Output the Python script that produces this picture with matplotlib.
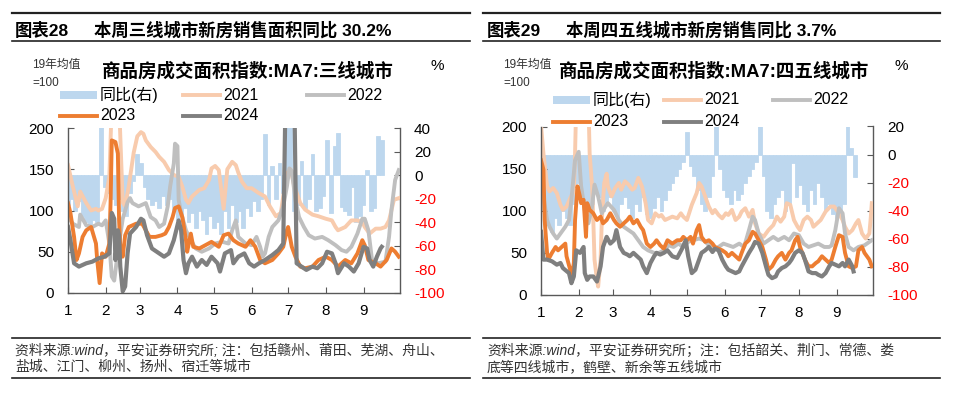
import matplotlib.pyplot as plt
from matplotlib.lines import Line2D
from matplotlib.patches import Rectangle
import numpy as np

plt.rcParams['font.family'] = ['Liberation Sans', 'Noto Sans CJK SC']
plt.rcParams['axes.unicode_minus'] = False

# x axis: day of year, ticks at month starts
month_days = [0, 31, 59, 90, 120, 151, 181, 212, 243]
month_labels = ['1', '2', '3', '4', '5', '6', '7', '8', '9']
bar_days = np.arange(0, 259, 3)

# ---- tier 3 cities (index, 19 avg = 100) ----
t3_2021_d = [0, 4, 8, 10, 15, 19, 23, 25, 28, 31, 34, 36, 42, 45, 47, 50, 54, 57, 60, 62, 64, 68, 72, 75, 79, 83, 87, 91,
             94, 97, 99, 102, 108, 112, 116, 118, 121, 124, 128, 131, 135, 138, 140, 143, 147, 151, 157, 162, 166, 171,
             175, 177, 180, 183, 186, 191, 195, 201, 206, 212, 217, 220, 222, 228, 233, 238, 242, 244, 248, 253, 257,
             261, 264, 268, 272]
t3_2021 = [155, 129, 105, 123, 109, 100, 102, 100, 102, 115, 141, 230, 230, 110, 105, 130, 170, 190, 195, 193, 185, 177,
           171, 165, 159, 149, 143, 141, 129, 113, 109, 117, 125, 127, 137, 151, 154, 149, 102, 150, 159, 155, 146, 135,
           127, 127, 121, 117, 105, 93, 97, 117, 145, 150, 130, 109, 101, 95, 93, 90, 88, 80, 76, 80, 88, 88, 86, 80,
           72, 78, 78, 80, 88, 113, 115]

t3_2022_d = [0, 4, 9, 10, 15, 20, 25, 28, 31, 34, 36, 38, 41, 45, 49, 51, 53, 58, 64, 68, 72, 75, 79, 82, 84, 87, 88, 90,
             91, 93, 97, 101, 105, 110, 116, 121, 127, 132, 135, 138, 140, 146, 151, 155, 158, 160, 162, 165, 168, 173,
             177, 180, 182, 184, 187, 190, 194, 198, 203, 209, 214, 220, 225, 229, 233, 238, 242, 244, 247, 250, 255,
             261, 264, 266, 269, 272]
t3_2022 = [92, 84, 80, 95, 82, 80, 84, 82, 88, 60, 20, 15, 50, 90, 110, 115, 109, 105, 109, 92, 88, 80, 84, 105, 129,
           157, 181, 178, 113, 97, 76, 64, 54, 50, 54, 60, 62, 60, 76, 88, 68, 60, 58, 68, 56, 44, 48, 68, 80, 88, 105,
           129, 151, 148, 113, 92, 80, 70, 66, 68, 64, 58, 52, 50, 56, 72, 90, 90, 76, 40, 36, 38, 68, 101, 137, 149]

t3_2023_d = [0, 2, 5, 7, 9, 12, 15, 19, 21, 23, 24, 26, 28, 31, 34, 35, 36, 39, 41, 42, 43, 45, 47, 50, 53, 56, 61, 64,
             67, 72, 77, 80, 83, 86, 88, 91, 94, 97, 98, 101, 103, 108, 113, 118, 124, 128, 132, 136, 140, 146, 150,
             154, 158, 162, 168, 173, 177, 180, 181, 184, 187, 191, 195, 201, 206, 212, 217, 222, 228, 233, 238, 242,
             244, 247, 253, 257, 262, 266, 269, 272]
t3_2023 = [109, 97, 68, 40, 48, 68, 76, 80, 70, 60, 40, 12, 48, 44, 60, 109, 185, 183, 169, 88, 55, 44, 70, 80, 82, 84,
           84, 76, 68, 68, 70, 72, 80, 92, 103, 105, 92, 64, 50, 72, 56, 54, 58, 62, 56, 70, 72, 64, 60, 56, 64, 56, 40,
           36, 40, 48, 56, 76, 80, 56, 44, 32, 30, 32, 40, 44, 40, 32, 40, 36, 48, 64, 58, 40, 36, 32, 40, 54, 50, 44]

t3_2024_d = [0, 2, 5, 9, 15, 20, 25, 30, 34, 36, 38, 39, 41, 42, 43, 45, 47, 49, 51, 56, 60, 62, 65, 69, 75, 79, 83, 87,
             91, 93, 95, 97, 99, 102, 106, 110, 114, 118, 123, 125, 129, 134, 136, 140, 145, 149, 153, 157, 162, 168,
             173, 177, 179, 186, 188, 192, 196, 201, 205, 209, 213, 217, 220, 222, 227, 231, 235, 239, 243, 246, 248,
             251, 254, 257, 258]
t3_2024 = [80, 64, 36, 32, 36, 38, 42, 44, 48, 97, 90, 40, 76, 70, 32, 2, 8, 48, 72, 80, 90, 88, 70, 54, 48, 44, 48, 64,
           88, 76, 40, 24, 36, 44, 32, 40, 34, 44, 36, 26, 48, 52, 36, 44, 48, 36, 32, 36, 40, 46, 52, 60, 250, 250, 36,
           32, 28, 32, 30, 36, 50, 48, 36, 24, 36, 32, 26, 36, 56, 54, 40, 32, 44, 54, 56]

t3_yoy = [-25, -20, -30, -22, -35, -40, -42, -38, -40, 60,
          -10, -15, -20, -25, -20, -30, -35, -15, -5, 18,
          10, -10, -20, -25, -22, -28, -18, -25, -20, -30,
          -38, -35, -28, -40, -32, -45, -30, -38, -50, -35,
          -45, -40, -50, -30, -45, -25, -40, -30, -45, -28,
          -35, -22, -30, -20, 35, -25, 8, -20, 10, -15,
          60, 60, -30, -25, 12, -28, -20, 18, -30, -28,
          -18, 30, -32, 25, 36, -27, -30, -34, -10, -40,
          -35, -25, 4, -30, -28, 33, 30]

# ---- tier 4-5 cities ----
t45_2021_d = [0, 2, 5, 7, 10, 13, 16, 18, 21, 24, 27, 28, 29, 35, 39, 40, 42, 43, 44, 46, 47, 49, 50, 52, 54, 55, 58,
              61, 64, 66, 69, 72, 75, 77, 80, 83, 86, 88, 91, 94, 97, 99, 102, 105, 108, 112, 115, 117, 120, 124, 128,
              130, 132, 135, 138, 141, 143, 146, 149, 152, 154, 157, 160, 163, 165, 168, 171, 174, 176, 179, 183, 187,
              191, 194, 197, 200, 202, 205, 208, 211, 213, 216, 219, 222, 224, 227, 230, 234, 238, 241, 245, 248, 250,
              253, 256, 259, 261, 264, 267, 270, 271, 272]
t45_2021 = [202, 168, 129, 123, 127, 121, 107, 101, 105, 115, 123, 168, 230, 230, 230, 168, 129, 89, 42, 18, 10, 42, 89,
            133, 144, 129, 117, 127, 133, 125, 135, 131, 125, 127, 139, 129, 109, 89, 85, 97, 93, 95, 89, 91, 93, 91,
            97, 93, 89, 107, 121, 133, 129, 117, 105, 97, 101, 95, 91, 97, 95, 101, 89, 93, 99, 103, 93, 101, 85, 73,
            69, 77, 83, 93, 87, 93, 109, 107, 89, 81, 77, 89, 93, 89, 81, 85, 89, 99, 105, 105, 97, 89, 81, 73, 77, 85,
            89, 73, 67, 73, 89, 109]

t45_2022_d = [0, 2, 5, 7, 10, 13, 16, 20, 23, 25, 28, 31, 33, 36, 39, 42, 44, 47, 50, 53, 55, 60, 64, 68, 72, 76, 80,
              84, 88, 93, 97, 101, 105, 109, 113, 117, 121, 125, 130, 134, 138, 142, 146, 150, 154, 158, 163, 167, 171,
              174, 176, 179, 183, 187, 191, 195, 200, 204, 208, 212, 216, 220, 224, 228, 233, 237, 239, 242, 245, 248,
              250, 253, 257, 261, 266, 270, 272]
t45_2022 = [133, 117, 89, 81, 73, 67, 73, 81, 89, 113, 160, 170, 129, 101, 85, 105, 131, 117, 97, 105, 109, 101, 89, 81,
            77, 73, 65, 57, 53, 50, 50, 53, 59, 57, 61, 57, 63, 65, 67, 65, 59, 55, 57, 61, 59, 57, 61, 57, 77, 93, 89,
            73, 61, 65, 69, 65, 69, 65, 73, 71, 61, 57, 59, 61, 57, 57, 59, 77, 103, 97, 73, 57, 53, 57, 59, 63, 65]

t45_2023_d = [0, 2, 3, 5, 6, 9, 12, 14, 17, 20, 21, 24, 25, 27, 28, 30, 32, 33, 35, 37, 38, 40, 43, 46, 49, 51, 54, 57,
              60, 62, 65, 68, 71, 73, 76, 79, 82, 84, 87, 90, 93, 95, 98, 101, 104, 108, 112, 115, 117, 120, 123, 125,
              128, 130, 132, 135, 138, 141, 143, 146, 149, 152, 154, 157, 160, 163, 165, 168, 171, 174, 176, 179, 182,
              185, 187, 190, 193, 195, 198, 201, 204, 206, 209, 211, 213, 217, 220, 223, 226, 228, 231, 234, 237, 239,
              242, 245, 248, 250, 253, 256, 259, 261, 264, 266, 270, 272]
t45_2023 = [160, 149, 89, 50, 42, 50, 57, 53, 57, 61, 46, 30, 18, 38, 89, 129, 117, 109, 113, 69, 109, 101, 97, 89, 93,
            85, 89, 97, 89, 85, 81, 85, 89, 93, 85, 89, 81, 77, 61, 57, 61, 65, 59, 55, 65, 61, 65, 65, 69, 65, 69, 61,
            77, 83, 69, 63, 65, 61, 57, 55, 53, 50, 46, 50, 46, 42, 50, 61, 65, 75, 73, 65, 57, 42, 30, 34, 42, 46, 50,
            42, 50, 53, 65, 69, 57, 42, 34, 34, 38, 40, 46, 42, 38, 42, 57, 71, 69, 50, 34, 32, 34, 53, 57, 50, 42, 34]

t45_2024_d = [0, 2, 5, 9, 13, 16, 18, 23, 25, 27, 29, 32, 35, 36, 38, 40, 43, 46, 49, 51, 54, 57, 60, 62, 65, 68, 71,
              73, 76, 79, 82, 84, 87, 90, 93, 95, 98, 101, 104, 108, 112, 116, 119, 121, 124, 127, 130, 132, 135, 138,
              141, 143, 146, 149, 152, 154, 157, 160, 163, 165, 168, 171, 174, 176, 179, 182, 185, 187, 190, 193, 195,
              198, 201, 204, 206, 209, 212, 215, 217, 220, 223, 226, 228, 231, 234, 237, 239, 242, 245, 248, 250, 253,
              256, 257]
t45_2024 = [75, 42, 42, 40, 36, 38, 32, 26, 14, 22, 53, 50, 57, 26, 18, 22, 22, 16, 34, 57, 69, 61, 65, 77, 57, 50, 48,
            46, 50, 46, 42, 34, 26, 38, 46, 50, 48, 50, 53, 46, 44, 55, 65, 46, 26, 30, 42, 50, 53, 57, 51, 55, 53, 42,
            34, 30, 28, 26, 28, 34, 42, 50, 57, 63, 61, 50, 34, 24, 20, 22, 28, 32, 34, 38, 42, 50, 53, 50, 42, 28, 26,
            26, 24, 22, 26, 34, 38, 36, 34, 38, 34, 42, 34, 28]

t45_yoy = [-40, -45, -50, -55, -45, -50, -40, -45, -50, -35,
           -20, -30, -45, -40, -35, -25, -30, -40, -35, -30,
           -40, -45, -35, -30, -38, -45, -35, -40, -30, -42,
           -45, -38, -30, -40, -32, -25, -20, -15, -10, -5,
           16, -8, -15, -25, -35, -40, -30, -15, 20, -10,
           -25, -30, -35, -25, -32, -28, -20, -15, -10, -5,
           20, -15, -40, -45, -35, -30, -25, -40, -35, -6,
           -30, -22, -35, -40, -25, -35, -20, -30, -40, -35,
           -42, -45, -40, -35, 21, 5, -16]

C_BAR = '#BDD7EE'
C21, C22, C23, C24 = '#F8CBAD', '#BFBFBF', '#ED7D31', '#7F7F7F'
SPINE = '#595959'

fig = plt.figure(figsize=(9.6, 3.96), dpi=100)


def fx(p):
    return p / 960


def fy(p):
    return 1 - p / 396


def draw_panel(cfg):
    x0, x1 = cfg['rule_x']
    for yy, lw in [(13, 1.6), (41, 1.2), (338, 1.2), (378, 1.2)]:
        fig.add_artist(Line2D([fx(x0), fx(x1)], [fy(yy), fy(yy)], color='#222222', lw=lw))
    fig.text(fx(cfg['fig_x']), fy(30), cfg['fig_no'], fontsize=12.5, fontweight='bold', va='center')
    fig.text(fx(cfg['head_x']), fy(30), cfg['headline'], fontsize=12.5, fontweight='bold', va='center')
    fig.text(fx(cfg['unit_x']), fy(65), '19年均值', fontsize=8.5, va='center', color='#333333')
    fig.text(fx(cfg['unit_x']), fy(83), '=100', fontsize=8.5, va='center', color='#333333')
    fig.text(fx(cfg['title_x']), fy(71), cfg['title'], fontsize=13.3, fontweight='bold', ha='center', va='center')
    fig.text(fx(cfg['pct_x']), fy(66), '%', fontsize=11, ha='center', va='center')
    for i, line in enumerate(cfg['note']):
        fig.text(fx(cfg['fig_x']), fy(351 + 16 * i), line, fontsize=10, style='italic', va='center',
                 color='#333333')

    ax = fig.add_axes(cfg['rect'])
    ax2 = ax.twinx()
    # yoy bars on the right scale, drawn behind the index lines
    ax2.bar(bar_days, cfg['yoy'], width=3, color=C_BAR, edgecolor=C_BAR, linewidth=0.6)
    ax.plot(cfg['d21'], cfg['v21'], color=C21, lw=2.8)
    ax.plot(cfg['d22'], cfg['v22'], color=C22, lw=2.8)
    ax.plot(cfg['d23'], cfg['v23'], color=C23, lw=2.8)
    ax.plot(cfg['d24'], cfg['v24'], color=C24, lw=3.0)
    ax.set_zorder(ax2.get_zorder() + 1)
    ax.patch.set_visible(False)

    ax.set_xlim(0, 273)
    ax.set_ylim(0, 200)
    ax.set_yticks([0, 50, 100, 150, 200])
    ax.set_xticks(month_days)
    ax.set_xticklabels(month_labels)
    ax2.set_ylim(cfg['rlim'])
    rticks = list(range(cfg['rlim'][0], cfg['rlim'][1] + 1, 20))
    ax2.set_yticks(rticks)
    for lab, v in zip(ax2.get_yticklabels(), rticks):
        lab.set_color('#FF0000' if v < 0 else 'black')

    for a in (ax, ax2):
        a.spines['top'].set_visible(False)
        for s in a.spines.values():
            s.set_color(SPINE)
            s.set_linewidth(1.0)
    ax.spines['right'].set_visible(False)
    ax2.spines['left'].set_visible(False)
    ax2.spines['bottom'].set_visible(False)
    ax.tick_params(axis='y', direction='in', length=4, color=SPINE, labelsize=11, pad=10)
    ax.tick_params(axis='x', direction='in', length=4, color=SPINE, labelsize=11, pad=8)
    ax2.tick_params(axis='y', direction='in', length=4, color=SPINE, labelsize=11, pad=10)

    # legend
    r1, r2 = cfg['leg_y']
    xs = cfg['leg_x']
    fig.add_artist(Rectangle((fx(xs[0]), fy(r1 + 4)), fx(37), 8 / 396, color=C_BAR, lw=0))
    fig.text(fx(xs[0] + 40), fy(r1), '同比(右)', fontsize=11.5, va='center')
    items = [(xs[1], r1, C21, '2021'), (xs[2], r1, C22, '2022'),
             (xs[0], r2, C23, '2023'), (xs[1], r2, C24, '2024')]
    for lx, ly, c, t in items:
        fig.add_artist(Line2D([fx(lx), fx(lx + 37)], [fy(ly), fy(ly)], color=c, lw=2.8))
        fig.text(fx(lx + 40), fy(ly), t, fontsize=11.5, va='center')


draw_panel(dict(
    rule_x=(12, 470), fig_x=15, head_x=94, unit_x=32, title_x=248, pct_x=437,
    fig_no='图表28', headline='本周三线城市新房销售面积同比 30.2%',
    title='商品房成交面积指数:MA7:三线城市',
    note=['资料来源:wind，平安证券研究所; 注：包括赣州、莆田、芜湖、舟山、', '盐城、江门、柳州、扬州、宿迁等城市'],
    rect=[fx(68), fy(293), fx(332), 165 / 396],
    yoy=t3_yoy, rlim=(-100, 40),
    d21=t3_2021_d, v21=t3_2021, d22=t3_2022_d, v22=t3_2022,
    d23=t3_2023_d, v23=t3_2023, d24=t3_2024_d, v24=t3_2024,
    leg_x=(60, 183, 307), leg_y=(95, 116),
))

draw_panel(dict(
    rule_x=(483, 940), fig_x=487, head_x=566, unit_x=503, title_x=714, pct_x=901,
    fig_no='图表29', headline='本周四五线城市新房销售同比 3.7%',
    title='商品房成交面积指数:MA7:四五线城市',
    note=['资料来源:wind，平安证券研究所；注：包括韶关、荆门、常德、娄', '底等四线城市，鹤壁、新余等五线城市'],
    rect=[fx(541), fy(295), fx(332), 168.5 / 396],
    yoy=t45_yoy, rlim=(-100, 20),
    d21=t45_2021_d, v21=t45_2021, d22=t45_2022_d, v22=t45_2022,
    d23=t45_2023_d, v23=t45_2023, d24=t45_2024_d, v24=t45_2024,
    leg_x=(553, 664, 773), leg_y=(100, 122),
))

fig.savefig('out.png', dpi=100)
